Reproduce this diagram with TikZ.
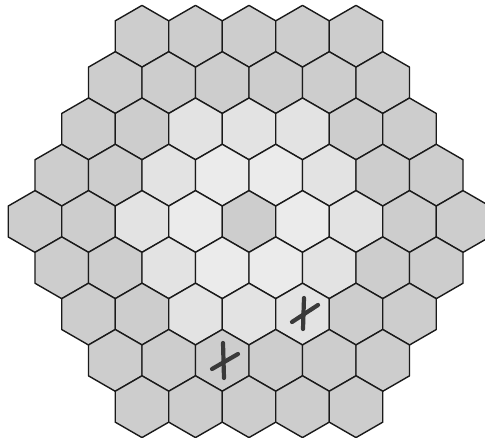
\documentclass[tikz,border=0pt]{standalone}
\usepackage{tikz}
\definecolor{ringA}{HTML}{CDCDCD}
\definecolor{ringB}{HTML}{EBEBEB}
\definecolor{ringC}{HTML}{E3E3E3}
\definecolor{ringD}{HTML}{CDCDCD}
\definecolor{ringE}{HTML}{CDCDCD}
\definecolor{hexline}{HTML}{1A1A1A}
\definecolor{crossink}{HTML}{3A3A3A}
\tikzset{
  hexcell/.style={draw=hexline, line width=1.4pt, line join=round},
  crossmark/.style={draw=crossink, line width=4.2pt, line cap=round},
}
\begin{document}
\begin{tikzpicture}[x=1pt,y=1pt]
\fill[white] (0,0) rectangle (485,438);
\useasboundingbox (0,0) rectangle (485,438);
\foreach \r in {0,...,8}{
  \pgfmathtruncatemacro\n{9-abs(\r-4)}
  \pgfmathtruncatemacro\jmax{\n-1}
  \foreach \j in {0,...,\jmax}{
    \pgfmathsetmacro\q{\j-(\n-1)/2-(\r-4)/2}
    \pgfmathtruncatemacro\d{round((abs(\q)+abs(\r-4)+abs(\q+\r-4))/2)}
    \pgfmathsetmacro\cx{249+(\j-(\n-1)/2)*53.5}
    \pgfmathsetmacro\cy{216.5+(4-\r)*46.3}
    \ifcase\d \def\rc{ringA}\or \def\rc{ringB}\or \def\rc{ringC}\or \def\rc{ringD}\else \def\rc{ringE}\fi
    \draw[hexcell, fill=\rc, shift={(\cx,\cy)}]
      (30:30.9) -- (90:30.9) -- (150:30.9) -- (210:30.9) -- (270:30.9) -- (330:30.9) -- cycle;
  }
}
% crosses
\draw[crossmark] (304,140) -- (303,109);
\draw[crossmark] (292,116) -- (318,133);
\draw[crossmark] (223,95) -- (224,60);
\draw[crossmark] (212,69) -- (238,84);
\end{tikzpicture}
\end{document}
